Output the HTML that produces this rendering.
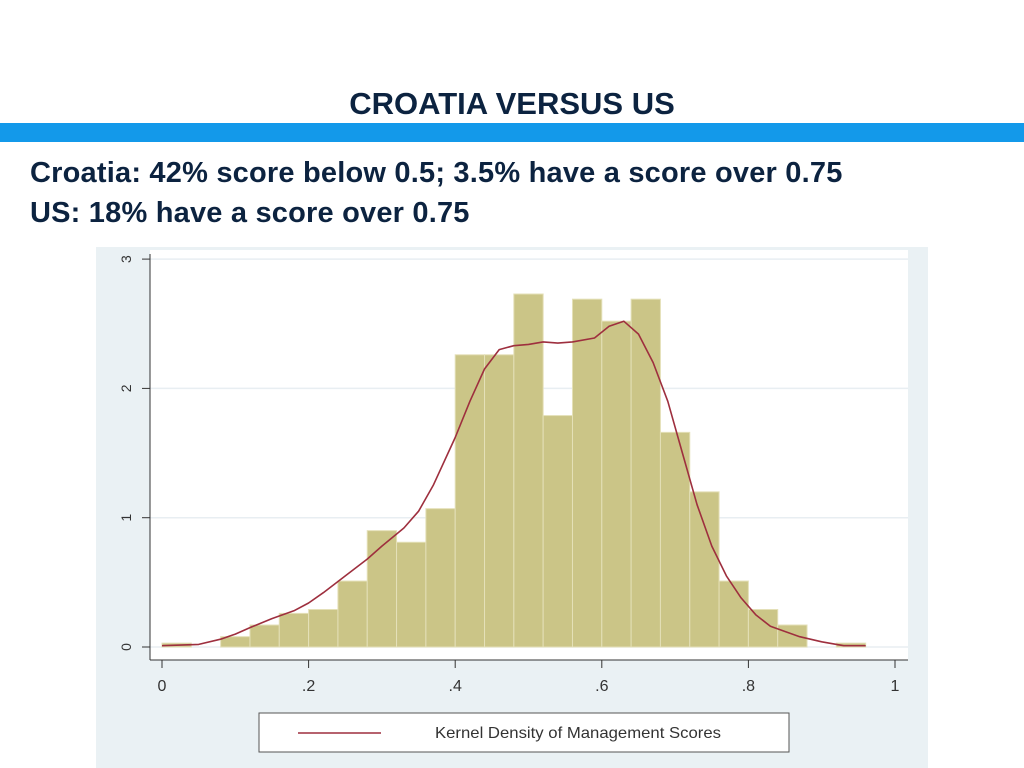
<!DOCTYPE html>
<html><head><meta charset="utf-8">
<style>
body{margin:0;width:1024px;height:768px;background:#fff;overflow:hidden;position:relative;font-family:"Liberation Sans",sans-serif}
#title{position:absolute;top:86px;left:0;width:1024px;text-align:center;font-weight:bold;font-size:31px;color:#0c2340;letter-spacing:0px}
#band{position:absolute;top:123px;left:0;width:1024px;height:19px;background:#1399ea}
.line{position:absolute;left:30px;font-weight:bold;font-size:29px;color:#0c2340;letter-spacing:0.2px;white-space:nowrap}
svg{position:absolute;left:0;top:0}
</style></head><body>
<div id="title">CROATIA VERSUS US</div>
<div id="band"></div>
<div class="line" style="top:157px">Croatia: 42% score below 0.5; 3.5% have a score over 0.75</div>
<div class="line" style="top:197px">US: 18% have a score over 0.75</div>
<svg id="chart" width="1024" height="768"></svg>
<script>
const binStarts=[0,0.04,0.08,0.12,0.16,0.20,0.24,0.28,0.32,0.36,0.40,0.44,0.48,0.52,0.56,0.60,0.64,0.68,0.72,0.76,0.80,0.84,0.88,0.92];
const binHeights=[0.03,0,0.08,0.17,0.26,0.29,0.51,0.90,0.81,1.07,2.26,2.26,2.73,1.79,2.69,2.52,2.69,1.66,1.20,0.51,0.29,0.17,0,0.03];
const kdeX=[0,0.05,0.08,0.1,0.12,0.15,0.18,0.2,0.22,0.25,0.28,0.3,0.33,0.35,0.37,0.4,0.42,0.44,0.46,0.48,0.5,0.52,0.54,0.56,0.59,0.61,0.63,0.65,0.67,0.69,0.71,0.73,0.75,0.77,0.79,0.81,0.83,0.85,0.87,0.9,0.93,0.96];
const kdeY=[0.01,0.02,0.06,0.1,0.15,0.22,0.28,0.34,0.42,0.55,0.68,0.78,0.92,1.05,1.25,1.62,1.9,2.15,2.3,2.33,2.34,2.36,2.35,2.36,2.39,2.48,2.52,2.42,2.2,1.9,1.5,1.1,0.78,0.55,0.38,0.25,0.16,0.12,0.08,0.04,0.01,0.01];
const xTicks=[0,0.2,0.4,0.6,0.8,1];
const xTickLabels=["0",".2",".4",".6",".8","1"];
const yTicks=[0,1,2,3];
const binWidth=0.04;
const NS="http://www.w3.org/2000/svg";
const svg=document.getElementById('chart');
const X=v=>162+v*733, Y=v=>647-v*129.3;
function el(t,a,p){const e=document.createElementNS(NS,t);for(const k in a)e.setAttribute(k,a[k]);(p||svg).appendChild(e);return e;}
let r=el('rect',{x:96,y:247,width:832,height:521,fill:'#eaf1f4'});

r=el('rect',{x:150,y:250,width:758,height:410,fill:'#fff'});

yTicks.forEach(t=>{
  const g=el('line',{x1:150,x2:908,y1:Y(t),y2:Y(t),stroke:'#e8eef2','stroke-width':1.5});
  
  el('line',{x1:142,x2:150,y1:Y(t),y2:Y(t),stroke:'#333'});
  const tx=el('text',{x:0,y:0,transform:`translate(131,${Y(t)}) rotate(-90)`,'text-anchor':'middle','font-size':14,fill:'#333'});
  tx.textContent=t;
});
binStarts.forEach((s,i)=>{
  if(binHeights[i]<=0)return;
  const b=el('rect',{x:X(s),y:Y(binHeights[i]),width:binWidth*733,height:Y(0)-Y(binHeights[i]),fill:'#cbc587',stroke:'#e4e0b8','stroke-width':1});
  
});
const pts=kdeX.map((x,i)=>X(x).toFixed(1)+','+Y(kdeY[i]).toFixed(1)).join(' ');
const pl=el('polyline',{points:pts,fill:'none',stroke:'#9e2f3e','stroke-width':1.6,'stroke-linejoin':'round'});

let ax=el('line',{x1:150,x2:150,y1:254,y2:660,stroke:'#333'});

ax=el('line',{x1:150,x2:908,y1:660,y2:660,stroke:'#333'});

xTicks.forEach((t,i)=>{
  el('line',{x1:X(t),x2:X(t),y1:660,y2:668,stroke:'#333'});
  const tx=el('text',{x:X(t),y:691,'text-anchor':'middle','font-size':16,fill:'#333'});
  tx.textContent=xTickLabels[i];
});
const lg=el('rect',{x:259,y:713,width:530,height:39,fill:'#fff',stroke:'#555','stroke-width':1});

const ll=el('line',{x1:298,x2:381,y1:733,y2:733,stroke:'#9e2f3e','stroke-width':1.6});

const lt=el('text',{x:435,y:738,'font-size':16,fill:'#333',textLength:286,lengthAdjust:'spacingAndGlyphs'});
lt.textContent='Kernel Density of Management Scores';

</script>
</body></html>
